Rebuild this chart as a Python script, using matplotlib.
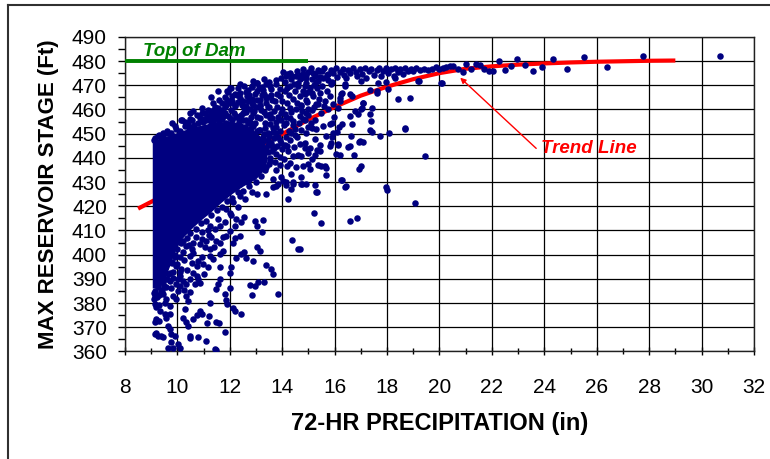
import numpy as np
import matplotlib

matplotlib.use("Agg")
import matplotlib.pyplot as plt
from matplotlib.lines import Line2D
from matplotlib.ticker import MultipleLocator

plt.rcParams["font.family"] = ["Liberation Sans", "DejaVu Sans"]

NAVY = "#000080"
RED = "#ff0000"
GREEN = "#008000"

# ── data (72-hr precipitation in inches, max stage in ft) ─────────────

# saturated core of the event cloud, outlined as a polygon
core_x = [9.06, 9.06, 9.4, 9.8, 10.2, 10.6, 11.0, 11.5, 12.0, 12.5, 12.9, 13.2,
          13.4, 13.45, 13.3, 13.0, 12.5, 12.1, 11.7, 11.3, 10.9, 10.5, 10.2,
          9.95, 9.75, 9.55, 9.35]
core_y = [386, 446.5, 448, 449.5, 451, 452.5, 453.5, 454.5, 455, 454, 451.5,
          448.5, 444.5, 439, 434.5, 431, 428, 425, 421.5, 417.5, 414, 410, 406.5,
          402, 396, 390, 386]

# edge of the core, where the dots stop overlapping
edge_pts = [
    (9.1, 447.5), (9.25, 449.2), (9.45, 448.6), (9.6, 450.3), (9.75, 449.6),
    (9.95, 451.8), (10.1, 450.9), (10.3, 453.0), (10.45, 452.2), (10.65, 453.6),
    (10.8, 454.5), (11.1, 455.6), (11.4, 456.0), (11.7, 456.8), (12.0, 456.5),
    (12.25, 457.0), (12.5, 455.8), (12.7, 454.5), (12.9, 453.2), (13.1, 451.5),
    (13.3, 449.8), (13.45, 447.3), (13.6, 444.8), (13.45, 442.2),
    (13.55, 440.0), (13.5, 437.6), (13.35, 435.0), (13.2, 432.6), (13.0, 430.0),
    (12.75, 428.5), (12.5, 426.4), (12.3, 425.8), (12.1, 423.4), (11.9, 422.0),
    (11.7, 419.6), (11.5, 418.4), (11.3, 416.5), (11.1, 414.0), (10.9, 413.0),
    (10.7, 410.6), (10.5, 409.0), (10.35, 407.0), (10.15, 404.8), (10.0, 402.5),
    (9.9, 399.0), (9.8, 396.5), (9.7, 392.4), (9.6, 390.0), (9.5, 387.0),
    (9.4, 384.2), (9.3, 383.5), (9.1, 384.0), (9.12, 381.5), (9.16, 379.5),
    (9.55, 398.5), (9.7, 401.5), (9.85, 404.5), (10.05, 407.5), (10.25, 409.8),
    (10.45, 412.5), (10.65, 414.6), (10.85, 416.0), (11.05, 417.6), (9.95, 395.5),
    (10.25, 397.8), (10.45, 404.0), (10.7, 407.2), (10.95, 409.2), (11.15, 410.0),
    (9.6, 396.0), (10.1, 393.0), (10.35, 393.5), (10.55, 396.5), (10.6, 400.5),
    (9.85, 390.5), (9.75, 386.0), (9.95, 388.0), (10.25, 385.5), (10.5, 390.0),
    (11.0, 392.0), (11.4, 403.0), (11.2, 408.0), (11.0, 456.0), (11.25, 455.5),
    (11.45, 457.5), (11.7, 456.0), (11.95, 457.2), (12.15, 458.6), (12.35, 456.3),
    (12.55, 460.6), (12.8, 457.0), (13.0, 461.0), (13.2, 459.7), (13.4, 462.5),
    (13.55, 458.2), (13.75, 455.0), (13.95, 458.6), (12.45, 462.0), (12.65, 465.5),
    (12.85, 464.2), (13.05, 467.8), (13.3, 466.4), (13.55, 469.5), (13.75, 472.0),
    (13.9, 468.6), (14.1, 471.4), (14.3, 475.0), (14.45, 470.6), (12.1, 463.5),
    (11.6, 464.0), (11.35, 462.6), (13.5, 449.0), (13.65, 450.5), (13.85, 448.8),
    (14.15, 448.5), (14.35, 450.2), (13.95, 446.2), (14.2, 444.8), (13.7, 444.0),
]

# busy zone between the core and the upper band
mid_pts = [
    (13.35, 452.5), (13.55, 454.0), (13.75, 452.8), (13.95, 455.5), (14.15, 454.2),
    (14.3, 456.5), (14.5, 452.0), (14.65, 454.5), (14.85, 455.8), (15.0, 457.5),
    (15.15, 452.5), (13.4, 457.5), (13.6, 456.5), (13.8, 460.8), (14.1, 458.2),
    (14.3, 460.5), (14.55, 462.8), (14.75, 459.2), (14.95, 463.0), (15.2, 461.0),
    (15.4, 464.5), (15.6, 461.5), (15.7, 467.5), (15.5, 469.5), (15.3, 471.5),
    (15.0, 467.0), (14.8, 467.8), (14.6, 469.5), (14.2, 469.0), (13.95, 473.0),
    (13.5, 471.5), (13.3, 472.5), (13.1, 468.8), (12.9, 471.8), (12.55, 469.6),
    (12.75, 466.0), (12.4, 466.8), (12.1, 465.5), (11.8, 465.2), (11.55, 467.5),
    (11.3, 465.0), (12.0, 469.0), (12.4, 470.5), (10.6, 459.5), (10.85, 456.5),
    (11.05, 458.5), (11.3, 459.2), (11.55, 460.5), (11.8, 461.0), (12.0, 462.5),
    (12.3, 463.0), (12.6, 461.5), (12.85, 462.8),
]

# upper band just below the dam crest, plus the large-storm outliers
band_pts = [
    (14.55, 475.8), (14.7, 474.2), (14.8, 476.6), (14.9, 473.0), (15.0, 475.3),
    (15.1, 477.0), (15.15, 472.6), (15.25, 474.6), (15.35, 476.4), (15.45, 473.5),
    (15.5, 475.9), (15.6, 477.1), (15.7, 474.4), (15.75, 472.2), (15.85, 476.2),
    (15.95, 474.9), (16.05, 477.0), (16.1, 473.4), (16.2, 475.6), (16.3, 476.9),
    (16.35, 474.1), (16.45, 472.8), (16.5, 476.3), (16.6, 474.9), (16.7, 477.2),
    (16.8, 475.5), (16.85, 473.6), (16.95, 476.6), (17.05, 474.6), (17.15, 477.0),
    (17.2, 472.9), (17.3, 475.8), (17.4, 476.9), (17.5, 474.3), (17.6, 476.3),
    (17.7, 477.3), (17.75, 473.7), (17.85, 475.9), (17.95, 477.0), (18.05, 474.9),
    (18.15, 476.6), (18.25, 473.8), (18.3, 477.2), (18.4, 475.6), (18.5, 476.8),
    (18.6, 474.6), (18.7, 477.0), (18.8, 475.9), (18.9, 476.9), (19.0, 476.0),
    (19.1, 477.3), (19.25, 476.4), (19.4, 476.9), (19.55, 476.1), (19.7, 476.8),
    (19.85, 477.5), (20.0, 476.6), (20.13, 477.2), (20.25, 477.5), (20.4, 477.8),
    (20.52, 477.9), (20.71, 476.6), (20.9, 475.6), (21.03, 478.9), (21.22, 476.8),
    (21.41, 478.9), (21.53, 478.5), (21.7, 476.6), (21.88, 475.9), (22.04, 475.9),
    (22.27, 479.9), (22.49, 476.3), (22.72, 477.9), (22.94, 480.7), (23.25, 478.3),
    (23.55, 475.9), (23.92, 477.4), (24.34, 480.7), (24.88, 476.8), (25.51, 481.8),
    (26.4, 477.4), (27.78, 482.2), (30.7, 482.2),
    (14.6, 471.0), (15.2, 470.2), (15.9, 471.5), (16.4, 470.5), (17.0, 471.8),
    (17.95, 471.3), (18.29, 472.8), (19.18, 471.7), (20.07, 471.0), (18.04, 468.3),
    (17.63, 467.6), (16.57, 466.5), (16.25, 466.2), (14.17, 474.6), (14.36, 473.6),
    (20.09, 470.9), (19.2, 471.6), (17.67, 470.9), (17.35, 468.2), (16.4, 469.5),
]

# scattered events above and to the right of the core (stage > 440 ft)
upper_pts = [
    (17.08, 462.8), (17.02, 460.0), (16.76, 459.3), (17.34, 458.0), (17.37, 455.2),
    (17.34, 451.4), (17.44, 450.6), (17.72, 449.2), (18.07, 450.1), (18.67, 451.7),
    (18.40, 464.1), (18.86, 464.6), (17.08, 446.5), (16.93, 446.5), (16.74, 441.0),
    (16.51, 444.5), (16.64, 449.2), (16.19, 463.4), (16.13, 460.7), (16.17, 452.8),
    (15.97, 457.0), (15.9, 454.5), (15.94, 450.3), (16.13, 445.5), (16.19, 441.0),
    (16.05, 441.4), (19.44, 440.7), (18.69, 452.2), (17.1, 462.7), (17.42, 460.4),
    (16.65, 454.1), (16.59, 457.3), (17.04, 460.7), (16.91, 458.2), (16.59, 445.0),
    (16.97, 446.8), (16.14, 445.7), (15.89, 448.4), (16.08, 450.5), (15.83, 445.0),
    (16.27, 453.9), (16.21, 464.8), (16.27, 466.8), (16.65, 465.4), (17.61, 466.8),
    (14.66, 472.4), (14.79, 474.5), (14.92, 471.0), (15.05, 469.0), (15.24, 473.8),
    (15.36, 471.7), (15.55, 473.1), (15.75, 474.5), (15.87, 470.3), (14.86, 466.2),
    (15.17, 465.5), (15.43, 466.9), (15.62, 463.4), (15.81, 465.5), (14.73, 461.4),
    (14.98, 460.0), (15.3, 462.1), (15.49, 458.6), (15.75, 460.0), (15.94, 462.1),
    (14.79, 455.9), (15.11, 454.5), (15.3, 451.7), (15.55, 453.1), (15.81, 453.8),
    (14.92, 450.3), (15.24, 447.6), (14.86, 446.2), (15.05, 444.1), (15.43, 445.5),
    (15.68, 449.0), (15.87, 446.2), (14.73, 440.7), (14.98, 442.1), (15.24, 441.0),
    (15.43, 442.8),
    (12.7, 468.2), (12.83, 469.6), (13.02, 471.0), (13.21, 469.3), (13.4, 470.3),
    (13.59, 468.5), (13.78, 470.3), (14.03, 475.4), (14.16, 473.8), (14.35, 472.4),
    (14.54, 474.0), (14.73, 473.1), (14.92, 474.4), (15.18, 475.1), (15.41, 475.8),
    (13.59, 466.1), (13.4, 464.7), (13.21, 466.1), (13.02, 463.8), (12.89, 462.0),
    (13.14, 461.5), (13.46, 461.0), (13.72, 463.3), (13.91, 465.4), (14.1, 467.5),
    (14.29, 469.6), (14.48, 467.5), (14.67, 465.4), (14.86, 469.6), (15.12, 466.8),
    (15.31, 468.9), (14.92, 464.0), (14.73, 462.0), (14.54, 460.1), (14.35, 458.8),
    (14.16, 456.8), (14.42, 455.4), (14.67, 457.1), (14.92, 458.5), (15.12, 459.9),
    (15.37, 462.4), (15.24, 455.7), (14.99, 452.9), (14.73, 451.5), (14.48, 449.4),
    (14.29, 447.4), (14.1, 445.3), (14.22, 442.9), (14.42, 440.7), (14.67, 445.7),
    (14.86, 443.9), (15.31, 443.2), (13.91, 440.4), (13.72, 438.3),
    (11.9, 467.5), (12.19, 466.5), (12.38, 464.7), (12.51, 463.3), (11.87, 462.0),
    (12.06, 459.9), (12.19, 461.5), (11.55, 456.4), (11.62, 458.5), (11.74, 457.4),
    (11.49, 453.6), (11.3, 456.8), (11.36, 455.0), (12.25, 457.1), (12.44, 457.8),
    (12.63, 458.8), (12.76, 460.1), (12.91, 459.2), (13.02, 456.8), (12.95, 454.3),
    (13.14, 456.4), (12.76, 455.0), (12.57, 452.9), (12.38, 452.2), (12.19, 450.8),
    (11.99, 449.9), (13.33, 454.3), (13.53, 456.4), (13.65, 452.2), (13.46, 450.1),
    (13.27, 448.8), (13.14, 451.5), (13.78, 450.1), (13.91, 447.4), (13.59, 446.0),
    (13.4, 443.9), (13.21, 441.8), (10.98, 454.6), (11.21, 452.9), (10.85, 451.5),
    (11.11, 449.9), (10.15, 455.7), (10.28, 455.0), (10.47, 456.0), (10.54, 452.9),
    (9.39, 447.4), (9.77, 450.1), (10.73, 457.8), (11.17, 459.9), (10.92, 460.6),
    (11.39, 459.6), (11.94, 467.3), (12.26, 466.0), (12.84, 469.4), (13.03, 470.8),
    (13.28, 468.0), (13.41, 465.2), (13.15, 461.8), (12.9, 458.4), (12.52, 458.4),
    (12.2, 461.8), (11.88, 463.9), (11.82, 458.4), (11.5, 459.0), (11.69, 459.8),
    (11.12, 457.0), (10.93, 458.4), (11.24, 457.7), (9.44, 450.4), (9.78, 454.3),
    (10.16, 455.6), (10.55, 455.6), (10.48, 458.4),
    (11.3, 454.0), (11.6, 455.2), (11.85, 454.5), (12.1, 455.8), (12.35, 454.9),
    (12.6, 455.5), (12.8, 452.4), (13.05, 451.0), (13.25, 447.0), (13.45, 445.5),
    (13.6, 443.0), (13.75, 441.5), (13.9, 437.0), (14.05, 439.5), (14.0, 443.5),
    (13.8, 445.0), (13.7, 448.0), (13.9, 451.0), (14.05, 453.5), (14.25, 451.0),
    (14.4, 453.5), (14.55, 448.5), (14.45, 444.5), (14.6, 441.0), (13.3, 459.0),
    (13.5, 461.0), (13.7, 459.5), (13.85, 457.0), (14.0, 460.0), (14.2, 462.5),
    (14.4, 464.5), (14.0, 463.5), (13.6, 464.0), (13.8, 466.5), (14.25, 466.0),
    (12.7, 463.5), (12.95, 466.5), (13.15, 464.0), (12.6, 467.0), (12.3, 469.0),
    (12.05, 468.8), (11.7, 462.5), (11.45, 461.0), (9.9, 453.0), (9.6, 451.0),
    (9.3, 449.5), (10.4, 454.5), (9.15, 448.0),
]

# scattered events below the core (stage < 440 ft)
lower_pts = [
    (15.66, 435.9), (15.68, 432.8), (15.36, 437.2), (15.49, 436.6), (17.02, 436.6),
    (16.93, 435.4), (16.25, 431.0), (16.4, 428.0), (14.77, 429.1), (15.28, 425.7),
    (16.28, 430.8), (16.42, 428.2), (17.95, 427.8), (18.0, 426.7), (19.08, 421.3),
    (15.2, 417.4), (15.47, 412.9), (16.6, 414.0), (16.87, 415.0), (14.66, 402.3),
    (14.79, 436.5), (15.05, 435.2), (15.62, 436.5), (14.99, 437.6), (14.54, 436.0),
    (14.35, 433.5), (14.73, 432.1), (14.42, 430.0), (14.16, 428.6), (14.92, 429.0),
    (15.24, 428.6), (15.12, 439.7), (13.78, 434.9), (13.97, 432.1), (13.65, 431.4),
    (13.84, 429.3), (13.55, 438.5), (13.4, 436.0), (14.2, 436.5), (14.3, 438.0),
    (12.19, 427.8), (12.38, 429.1), (12.7, 429.8), (13.02, 425.0), (13.4, 425.0),
    (13.65, 427.8), (13.78, 428.4), (14.03, 430.5), (14.16, 429.8), (14.42, 429.1),
    (14.73, 429.1), (15.31, 425.7), (14.35, 427.1), (14.22, 422.9), (14.39, 406.0),
    (14.61, 402.3), (13.84, 383.7), (13.65, 392.0), (13.59, 394.0), (13.4, 395.8),
    (13.14, 401.6), (13.02, 403.2), (12.89, 397.5), (13.27, 414.4), (12.98, 414.0),
    (13.02, 411.9), (13.21, 409.2), (13.31, 388.5), (13.08, 388.5), (12.95, 387.1),
    (12.76, 387.4), (12.83, 383.3), (12.53, 401.2), (12.44, 400.2), (12.61, 398.8),
    (12.25, 398.6), (12.13, 405.0), (12.19, 406.7), (12.38, 407.8), (12.44, 413.3),
    (12.53, 415.4), (12.25, 414.7), (12.19, 411.9), (12.06, 416.3), (12.06, 394.7),
    (12.0, 392.6), (12.02, 386.4), (11.81, 383.7), (11.87, 381.3), (11.91, 379.5),
    (12.13, 377.8), (12.19, 376.8), (12.44, 375.4), (11.62, 389.9), (11.55, 387.8),
    (11.49, 385.7), (11.62, 395.0), (11.49, 372.0), (11.58, 371.7), (11.81, 368.1),
    (11.43, 361.0), (11.46, 360.4), (11.11, 364.4), (11.13, 371.6), (11.21, 374.7),
    (10.85, 376.8), (10.92, 375.4), (10.73, 375.0), (11.26, 380.2), (10.79, 365.8),
    (10.47, 366.5), (10.5, 365.4), (10.41, 370.6), (10.34, 372.0), (10.6, 373.3),
    (10.28, 377.5), (10.22, 374.0), (10.09, 361.6), (10.03, 363.0), (9.84, 361.6),
    (9.64, 361.6), (9.77, 364.0), (9.9, 366.5), (9.77, 367.2), (9.2, 367.8),
    (9.14, 367.1), (9.26, 366.5), (9.39, 366.2), (9.45, 365.8), (9.64, 370.6),
    (9.71, 369.2), (9.14, 372.0), (9.2, 373.3), (9.3, 372.7), (9.52, 375.4),
    (9.58, 374.0), (9.71, 375.4), (9.2, 378.2), (9.3, 379.1), (9.35, 376.8),
    (9.52, 380.2), (9.58, 381.6), (9.71, 378.9), (9.14, 383.0), (9.22, 382.3),
    (9.45, 383.7), (9.39, 384.6), (9.84, 383.0), (9.96, 381.6), (10.03, 385.1),
    (10.09, 387.1), (10.03, 389.9), (10.22, 389.2), (10.09, 391.3), (10.34, 387.8),
    (10.15, 394.0), (10.6, 392.6), (10.73, 391.3), (10.79, 389.9), (10.88, 388.2),
    (10.66, 387.8), (10.47, 384.4), (10.34, 383.0), (10.41, 380.9), (10.79, 397.5),
    (10.98, 396.1), (11.17, 394.7), (11.24, 399.5), (10.47, 399.5), (10.54, 402.3),
    (10.34, 403.7), (10.22, 405.7), (10.6, 405.0), (10.85, 404.3), (11.04, 403.0),
    (11.24, 402.3), (11.11, 405.7), (10.92, 406.4), (11.3, 407.1), (11.49, 405.7),
    (11.62, 405.0), (11.74, 407.1), (11.87, 407.8), (11.99, 409.9), (10.73, 395.4),
    (10.92, 399.2), (11.36, 398.1), (11.62, 400.2), (11.74, 401.6), (11.43, 410.5),
    (11.62, 411.9), (11.81, 413.3), (11.24, 411.9), (11.55, 414.7), (11.99, 417.4),
    (12.32, 419.5), (12.57, 422.9), (12.83, 425.7), (12.38, 424.3), (12.13, 421.6),
    (11.87, 418.8), (9.5, 395.0), (9.65, 392.0), (9.8, 397.0), (9.9, 400.0),
    (9.6, 402.0), (9.75, 405.0), (10.0, 396.0), (10.1, 399.0), (9.45, 388.5),
    (9.55, 386.5), (9.7, 389.0), (9.85, 393.0), (10.2, 401.0), (9.4, 385.5),
    (9.15, 385.0), (9.25, 386.5),
]

# fitted trend of max stage against 72-hr precipitation
trend_x = [8.5, 9, 10, 11, 12, 13, 14, 15, 16, 17, 18, 19, 20, 21, 22, 23, 24,
           25, 26, 27, 28, 29]
trend_y = [419.0, 421.8, 427.5, 433.2, 438.8, 444.3, 449.8, 455.8, 461.0, 465.7,
           469.4, 472.5, 475.0, 476.8, 477.8, 478.5, 479.0, 479.4, 479.7, 479.9,
           480.1, 480.2]

top_of_dam = 480.0
dam_line_x = [8.0, 15.0]

# ── plot ──────────────────────────────────────────────────────────────

fig = plt.figure(figsize=(7.7, 4.59), dpi=100)
ax = fig.add_axes([0.1623, 0.2344, 0.8169, 0.6854])

ax.set_xlim(8, 32)
ax.set_ylim(360, 490)
ax.xaxis.set_major_locator(MultipleLocator(2))
ax.xaxis.set_minor_locator(MultipleLocator(1))
ax.yaxis.set_major_locator(MultipleLocator(10))
ax.yaxis.set_minor_locator(MultipleLocator(5))
ax.grid(True, which="major", color="black", linewidth=0.9)
ax.set_axisbelow(True)

ax.tick_params(axis="x", which="major", direction="inout", length=6, width=1,
               pad=16, labelsize=15)
ax.tick_params(axis="x", which="minor", direction="inout", length=4, width=1)
ax.tick_params(axis="y", which="major", direction="out", length=5, width=1,
               pad=8, labelsize=15)
ax.tick_params(axis="y", which="minor", direction="out", length=5, width=1)
for side in ax.spines.values():
    side.set_linewidth(1.0)
    side.set_color("#202020")

ax.plot(trend_x, trend_y, color=RED, linewidth=3.0, solid_capstyle="butt",
        zorder=2)

ax.fill(core_x, core_y, color=NAVY, linewidth=0, zorder=3)
for pts in (edge_pts, mid_pts, band_pts, upper_pts, lower_pts):
    arr = np.array(pts)
    ax.scatter(arr[:, 0], arr[:, 1], s=22, color=NAVY, linewidths=0, zorder=3)

ax.plot(dam_line_x, [top_of_dam, top_of_dam], color=GREEN, linewidth=2.8,
        solid_capstyle="butt", zorder=4)
ax.text(8.7, 483.9, "Top of Dam", color=GREEN, fontsize=13.5, fontweight="bold",
        fontstyle="italic", ha="left", va="center")

ax.annotate("", xy=(20.79, 473.1), xytext=(23.69, 443.9),
            arrowprops=dict(arrowstyle="-|>", color=RED, lw=1.0,
                            mutation_scale=8, shrinkA=0, shrinkB=0), zorder=5)
ax.text(23.87, 443.9, "Trend Line", color=RED, fontsize=13.5,
        fontweight="bold", fontstyle="italic", ha="left", va="center")

ax.set_xlabel("72-HR PRECIPITATION (in)", fontsize=17, fontweight="bold",
              labelpad=11)
ax.set_ylabel("MAX RESERVOIR STAGE (Ft)", fontsize=16, fontweight="bold",
              labelpad=9)

# chart-area border (left and top edges fall inside the canvas)
fig.add_artist(Line2D([8 / 770, 8 / 770], [0, 1 - 5 / 459],
                      transform=fig.transFigure, color="#303030", lw=1.5))
fig.add_artist(Line2D([8 / 770, 1], [1 - 5 / 459, 1 - 5 / 459],
                      transform=fig.transFigure, color="#303030", lw=1.5))

fig.savefig("out.png", dpi=100)
